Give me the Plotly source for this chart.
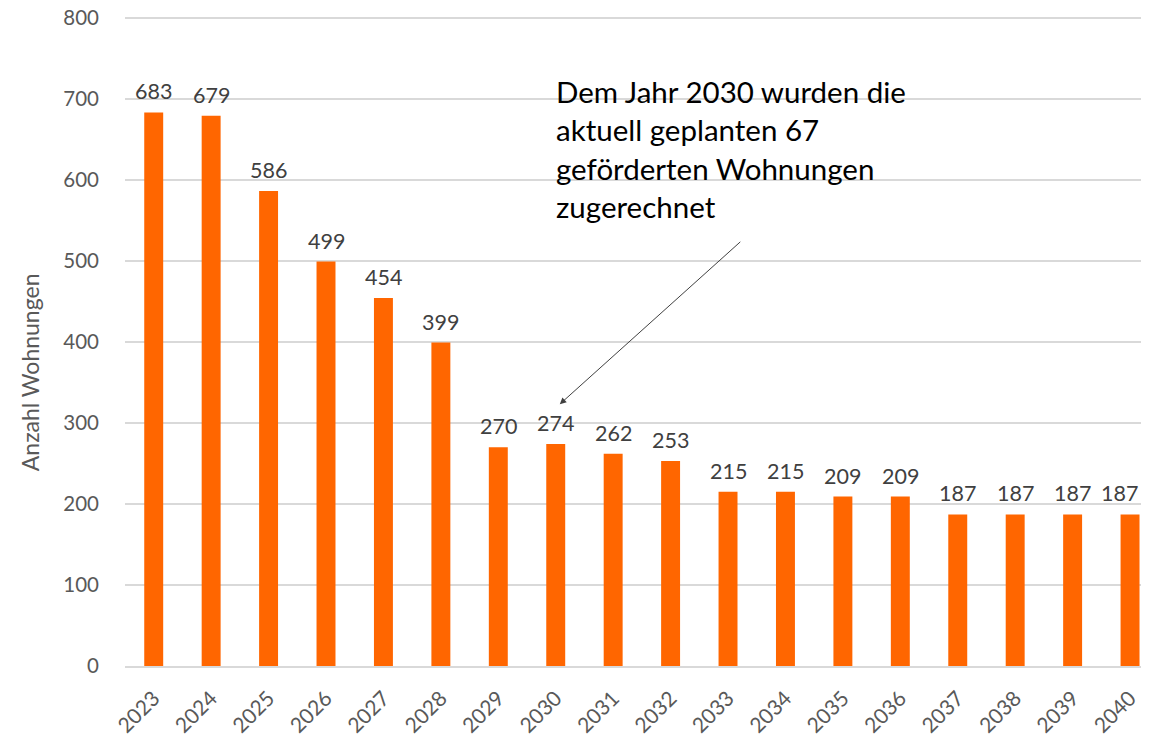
import plotly.graph_objects as go

years = ["2023", "2024", "2025", "2026", "2027", "2028", "2029", "2030", "2031",
         "2032", "2033", "2034", "2035", "2036", "2037", "2038", "2039", "2040"]
wohnungen = [683, 679, 586, 499, 454, 399, 270, 274, 262, 253, 215, 215, 209, 209,
             187, 187, 187, 187]
y_ticks = [0, 100, 200, 300, 400, 500, 600, 700, 800]
y_title = "Anzahl Wohnungen"
note = "Dem Jahr 2030 wurden die<br>aktuell geplanten 67<br>geförderten Wohnungen<br>zugerechnet"

FONT = "Lato, 'Open Sans', sans-serif"
xs = list(range(len(years)))

fig = go.Figure(go.Bar(
    x=xs,
    y=wohnungen,
    width=0.33,
    marker=dict(color="#FF6600", line=dict(width=0)),
    hoverinfo="x+y",
))

annotations = []
for i, (xi, v) in enumerate(zip(xs, wohnungen)):
    last = i == len(xs) - 1
    annotations.append(dict(
        x=xi, y=v, xref="x", yref="y", text=str(v), showarrow=False,
        xanchor="right" if last else "center", xshift=10 if last else 0,
        yanchor="middle", yshift=21,
        font=dict(family=FONT, size=21.5, color="#404040"),
    ))

annotations += [
    dict(
        xref="paper", yref="paper", x=0, y=0.452, xshift=-95,
        xanchor="center", yanchor="middle", textangle=-90,
        text=y_title, showarrow=False,
        font=dict(family=FONT, size=23, color="#595959"),
    ),
    dict(
        xref="paper", yref="paper", x=0.4186, y=0.914,
        xanchor="left", yanchor="top", align="left",
        text=note, showarrow=False,
        font=dict(family=FONT, size=29.5, color="black"),
    ),
    dict(
        xref="x", yref="y", axref="x", ayref="y",
        x=7.07, y=323, ax=10.24, ay=525,
        text="", showarrow=True,
        arrowhead=2, arrowsize=1.3, arrowwidth=1, arrowcolor="#404040",
    ),
]

fig.update_layout(
    width=1141, height=729,
    margin=dict(l=117, r=0, t=8, b=71),
    plot_bgcolor="white", paper_bgcolor="white",
    showlegend=False,
    font=dict(family=FONT, color="#595959"),
    xaxis=dict(
        tickmode="array",
        tickvals=xs,
        ticktext=years,
        tickangle=-45,
        range=[-0.5, 17.33],
        showgrid=False,
        showline=True, linecolor="#D9D9D9", linewidth=1.5,
        ticks="",
        automargin=False,
        ticklabelstandoff=10,
        tickfont=dict(size=21, color="#595959"),
    ),
    yaxis=dict(
        range=[0, 802],
        tickvals=y_ticks,
        showgrid=True, gridcolor="#D9D9D9", gridwidth=1.5,
        zeroline=False,
        automargin=False,
        ticklabeloverflow="allow",
        tickfont=dict(size=20.5, color="#595959"),
        ticklabelstandoff=25,
    ),
    annotations=annotations,
)

fig.write_html("out.html")
